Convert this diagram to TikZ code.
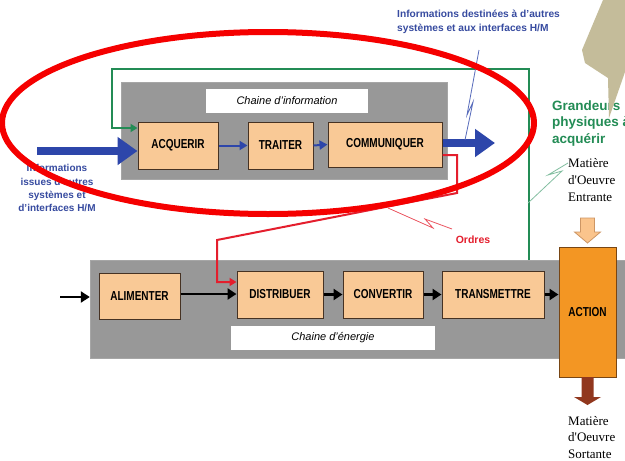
\documentclass[tikz,border=0pt]{standalone}
\usepackage{fontspec}
\setmainfont{Liberation Sans}
\newfontfamily\serifface{Liberation Serif}
\usetikzlibrary{arrows.meta}

\definecolor{chaingray}{RGB}{152,152,152}
\definecolor{funcfill}{RGB}{249,201,150}
\definecolor{funcedge}{RGB}{70,50,35}
\definecolor{actfill}{RGB}{243,150,35}
\definecolor{actedge}{RGB}{120,70,20}
\definecolor{infoblue}{RGB}{45,70,170}
\definecolor{textblue}{RGB}{55,75,160}
\definecolor{loopgreen}{RGB}{35,140,85}
\definecolor{boltgreen}{RGB}{130,190,160}
\definecolor{ordred}{RGB}{228,30,45}
\definecolor{ringred}{RGB}{245,0,0}
\definecolor{khaki}{RGB}{196,188,154}
\definecolor{inarrow}{RGB}{250,196,140}
\definecolor{inedge}{RGB}{205,150,100}
\definecolor{outarrow}{RGB}{145,55,30}

% box labels are set in a narrow, tall bold face
\newcommand{\tallcaps}[1]{\scalebox{1}[1.3]{#1}}

\tikzset{
  chainbox/.style={fill=chaingray, draw=gray!70, inner sep=0pt},
  chaintag/.style={fill=white, inner sep=0pt, font=\itshape\fontsize{11}{13}\selectfont},
  func/.style={draw=funcedge, line width=1pt, fill=funcfill, inner sep=0pt,
               font=\bfseries\fontsize{10}{12}\selectfont},
  infoflow/.style={infoblue, line width=2pt, -{Triangle[length=8pt,width=9pt]}},
  powerflow/.style={black, line width=2.5pt, -{Triangle[length=9pt,width=11pt]}},
  bigflow/.style={infoblue, line width=8pt, -{Triangle[length=20pt,width=27pt]}},
  bolt/.style={line width=0.8pt, line join=miter},
}

\begin{document}
\begin{tikzpicture}[x=1pt,y=-1pt]
\clip (0,0) rectangle (625,461);
\fill[white] (0,0) rectangle (625,461);

% chain backgrounds and their titles
\node[chainbox, minimum width=326pt, minimum height=97pt] (infochain) at (284,130.5) {};
\node[chainbox, minimum width=545pt, minimum height=98pt] (energychain) at (362.5,309) {};
\node[chaintag, minimum width=162pt, minimum height=24pt] (infotag) at (287,101) {Chaine d'information};
\node[chaintag, minimum width=204pt, minimum height=24pt] (energytag) at (333,338) {Chaine d'énergie};

% information chain functions
\node[func, minimum width=80pt, minimum height=47pt] (acq) at (178,145.5) {\tallcaps{ACQUERIR}};
\node[func, minimum width=65pt, minimum height=47pt] (trait) at (280.5,145.5) {\tallcaps{TRAITER}};
\node[func, minimum width=114pt, minimum height=45pt] (comm) at (385,144.5) {\tallcaps{COMMUNIQUER}};

% energy chain functions
\node[func, minimum width=81pt, minimum height=46pt] (alim) at (139.5,296) {\tallcaps{ALIMENTER}};
\node[func, minimum width=86pt, minimum height=47pt] (distrib) at (280,294.5) {\tallcaps{DISTRIBUER}};
\node[func, minimum width=80pt, minimum height=47pt] (conv) at (383,294.5) {\tallcaps{CONVERTIR}};
\node[func, minimum width=102pt, minimum height=47pt] (trans) at (493,294.5) {\tallcaps{TRANSMETTRE}};
\node[func, fill=actfill, draw=actedge, minimum width=57pt, minimum height=130pt] (action) at (587.5,312) {\tallcaps{ACTION}};

% feedback loop: physical quantities back to ACQUERIR
\coordinate (gtap) at (529,260);
\draw[loopgreen, line width=2pt, -{Triangle[length=7pt,width=8pt]}]
  (gtap) |- (112,69) |- ([yshift=17.5pt]acq.west);

% orders: COMMUNIQUER to DISTRIBUER
\draw[ordred, line width=2pt, -{Triangle[length=7pt,width=8pt]}]
  ([yshift=-10.5pt]comm.east) -| (457,193) -- (217,240) |- ([yshift=12.5pt]distrib.west);

% information flow
\draw[infoflow] (acq.east) -- (trait.west);
\draw[infoflow] (trait.east) -- (comm.west);
\coordinate (infoin) at (37,151);
\coordinate (infoout) at (495,143);
\draw[bigflow] (infoin) -- (infoin -| acq.west);
\draw[bigflow] (comm.east |- infoout) -- (infoout);

% energy flow
\coordinate (energyin) at (60,297);
\draw[powerflow] (energyin) -- (energyin -| energychain.west);
\draw[powerflow] ([yshift=2pt]alim.east) -- ([yshift=2pt]alim.east -| distrib.west);
\draw[powerflow] (distrib.east) -- (conv.west);
\draw[powerflow] (conv.east) -- (trans.west);
\draw[powerflow] (trans.east) -- (action.west |- trans.east);

% raw material in and out
\filldraw[fill=inarrow, draw=inedge, line width=0.8pt]
  (580.5,218) -- (594.5,218) -- (594.5,232) -- (600.5,232) -- (587.5,243)
  -- (574.5,232) -- (580.5,232) -- cycle;
\fill[outarrow]
  (581.5,377) -- (593.5,377) -- (593.5,397) -- (601,397) -- (587.5,405)
  -- (574,397) -- (581.5,397) -- cycle;

% texts
\node[anchor=north west, align=left, inner sep=0pt, font=\serifface\fontsize{13}{17}\selectfont]
  (mdein) at (568,158.5) {Matière\\d'Oeuvre\\Entrante};
\node[anchor=north west, align=left, inner sep=0pt, font=\serifface\fontsize{13}{16.5}\selectfont]
  (mdeout) at (568,416) {Matière\\d'Oeuvre\\Sortante};
\node[anchor=north west, align=left, inner sep=0pt, text=loopgreen, font=\bfseries\fontsize{13.5}{16.5}\selectfont]
  (grandeurs) at (552,100.5) {Grandeurs\\physiques à\\acquérir};
\node[anchor=north, align=center, inner sep=0pt, text=textblue, font=\bfseries\fontsize{10}{13.3}\selectfont]
  (infosrc) at (57,164.5) {Informations\\issues d'autres\\systèmes et\\d'interfaces H/M};
\node[anchor=north west, align=left, inner sep=0pt, text=textblue, font=\bfseries\fontsize{10.2}{14}\selectfont]
  (infodest) at (397,10) {Informations destinées à d'autres\\systèmes et aux interfaces H/M};
\node[text=ordred, inner sep=0pt, font=\bfseries\fontsize{10.5}{12}\selectfont] (ordres) at (473,240) {Ordres};

% lightning links from labels to flows
\draw[bolt, infoblue!80] (479,50) -- (467,115) -- (473,102) -- (465,140);
\draw[bolt, boltgreen] (568,163) -- (548,175) -- (562,171) -- (528,203);
\draw[bolt, ordred!75] (388,208) -- (433,228) -- (425,219) -- (452,229);

% pointer shape in the corner
\fill[khaki] (603,0) -- (582,50) -- (585,63) -- (608,78) -- (609,118) -- (625,72) -- (625,0) -- cycle;

% highlight ring round the information chain
\draw[ringred, line width=6pt] (268,123) ellipse [x radius=266pt, y radius=91pt];
\end{tikzpicture}
\end{document}
